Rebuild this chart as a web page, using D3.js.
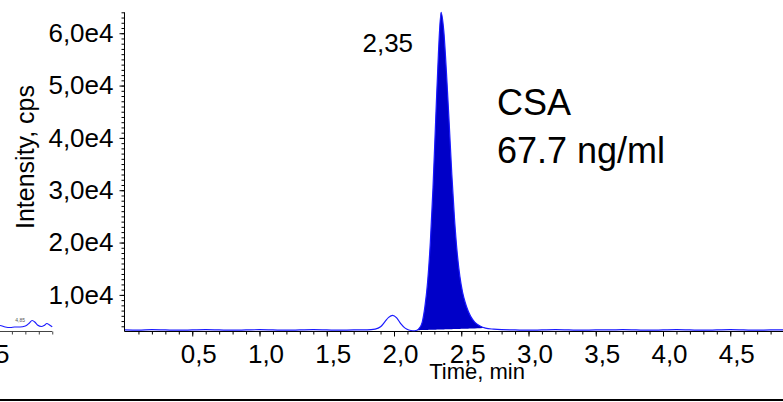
<!DOCTYPE html>
<html>
<head>
<meta charset="utf-8">
<script src="https://cdn.jsdelivr.net/npm/d3@7"></script>
<style>
  body { margin: 0; background: #fff; }
  svg { display: block; }
  text { font-family: "Liberation Sans", Arial, Helvetica, sans-serif; fill: #000; }
</style>
</head>
<body>
<svg id="chart" width="783" height="402"></svg>
<script>
// XIC trace: retention time (min) and intensity (cps)
const times = [
  0.00, 0.10, 0.20, 0.30, 0.40, 0.50, 0.60, 0.70, 0.80, 0.90,
  1.00, 1.10, 1.20, 1.30, 1.40, 1.50, 1.60, 1.70, 1.80, 1.86,
  1.90, 1.93, 1.96, 1.99, 2.02, 2.05, 2.08, 2.11, 2.14, 2.17,
  2.19, 2.21, 2.23, 2.25, 2.27, 2.29, 2.31, 2.33, 2.35, 2.37,
  2.39, 2.41, 2.43, 2.45, 2.47, 2.49, 2.51, 2.53, 2.55, 2.57,
  2.60, 2.64, 2.68, 2.74, 2.80, 2.90, 3.00, 3.10, 3.20, 3.30,
  3.40, 3.50, 3.60, 3.70, 3.80, 3.90, 4.00, 4.10, 4.20, 4.30,
  4.40, 4.50, 4.60, 4.70, 4.80, 4.90, 5.00
];
const intensities = [
  3300, 3250, 3350, 3300, 3250, 3300, 3350, 3300, 3250, 3300,
  3350, 3300, 3250, 3300, 3350, 3300, 3250, 3300, 3300, 3450,
  3900, 4800, 5700, 6100, 5600, 4500, 3700, 3300, 3150, 3250,
  3700, 4800, 7800, 12500, 20000, 30500, 43500, 56000, 64000, 60500,
  52500, 43000, 33000, 24500, 18000, 13500, 10500, 8500, 7000, 5900,
  4800, 4050, 3650, 3450, 3350, 3300, 3250, 3300, 3350, 3300,
  3250, 3300, 3300, 3350, 3300, 3250, 3300, 3350, 3300, 3250,
  3300, 3350, 3300, 3250, 3300, 3300, 3250
];

// integrated peak window (min)
const peakStart = 2.17;
const peakEnd = 2.68;
const peakRT = 2.35;
const peakLabel = "2,35";
const analyteLines = ["CSA", "67.7 ng/ml"];

// axis ticks and labels
const yMajorTicks = [10000, 20000, 30000, 40000, 50000, 60000];
const yTickLabels = ["1,0e4", "2,0e4", "3,0e4", "4,0e4", "5,0e4", "6,0e4"];
const xMajorTicks = [0.5, 1.0, 1.5, 2.0, 2.5, 3.0, 3.5, 4.0, 4.5];
const xTickLabels = ["0,5", "1,0", "1,5", "2,0", "2,5", "3,0", "3,5", "4,0", "4,5"];
const xTitle = "Time, min";
const yTitle = "Intensity, cps";

// right-hand end of the neighbouring panel
const sideTimes = [4.58, 4.61, 4.65, 4.69, 4.72, 4.76, 4.80, 4.83, 4.85, 4.87, 4.89, 4.92, 4.94, 4.96, 4.98, 5.00];
const sideIntensities = [50, 52, 38, 33, 38, 38, 47, 75, 99, 85, 56, 42, 52, 71, 56, 40];
const sideMajorTicks = [4.5];
const sideTickLabels = ["4,5"];
const sidePeakRT = 4.85;
const sidePeakLabel = "4,85";

const svg = d3.select("#chart");
const W = 783, H = 402;
svg.append("rect").attr("width", W).attr("height", H).attr("fill", "#fff");

const axisX0 = 124.5;   // y-axis position
const axisY0 = 331.5;   // x-axis position
const traceColor = "#1a1aff";
const fillColor = "#0000c8";
const fontSize = 26;

const x = d3.scaleLinear().domain([0, 5]).range([125, 797.5]);
const y = d3.scaleLinear().domain([3100, 64000]).range([331, 12.3]);

const data = times.map((t, i) => ({ t, v: intensities[i] }));

// ---- axes ----
const minorX = d3.range(1, 50).map(i => i / 10);
const gxMinor = svg.append("g").attr("transform", `translate(0,${axisY0})`)
  .call(d3.axisBottom(x).tickValues(minorX).tickSize(3).tickSizeOuter(0).tickFormat(""));
gxMinor.select(".domain").attr("d", `M${axisX0},0H${W}`);

const gxMajor = svg.append("g").attr("transform", `translate(0,${axisY0})`)
  .call(d3.axisBottom(x).tickValues(xMajorTicks).tickSize(5).tickPadding(8)
    .tickFormat((d, i) => xTickLabels[i]));
gxMajor.select(".domain").remove();
gxMajor.selectAll("text").attr("dx", 6).style("font-size", fontSize + "px");

const minorY = d3.range(4000, 64001, 1000);
const gyMinor = svg.append("g").attr("transform", `translate(${axisX0},0)`)
  .call(d3.axisLeft(y).tickValues(minorY).tickSize(3).tickSizeOuter(0).tickFormat(""));
gyMinor.select(".domain").attr("d", `M0,${axisY0}V${y(64000)}`);

const gyMajor = svg.append("g").attr("transform", `translate(${axisX0},0)`)
  .call(d3.axisLeft(y).tickValues(yMajorTicks).tickSize(5).tickPadding(6)
    .tickFormat((d, i) => yTickLabels[i]));
gyMajor.select(".domain").remove();
gyMajor.selectAll("text").style("font-size", fontSize + "px");

svg.selectAll(".domain, .tick line").attr("stroke", "#000").attr("stroke-width", 1);

// axis titles
svg.append("text")
  .attr("x", 477).attr("y", 379)
  .attr("text-anchor", "middle")
  .style("font-size", "22px")
  .text(xTitle);

svg.append("text")
  .attr("transform", "translate(34,157) rotate(-90)")
  .attr("text-anchor", "middle")
  .style("font-size", "25px")
  .text(yTitle);

// ---- integrated peak fill ----
const startV = intensities[times.indexOf(peakStart)];
const endV = intensities[times.indexOf(peakEnd)];
const baseAt = t => startV + (endV - startV) * (t - peakStart) / (peakEnd - peakStart);
const peakData = data.filter(d => d.t >= peakStart && d.t <= peakEnd);

svg.append("path")
  .datum(peakData)
  .attr("fill", fillColor)
  .attr("d", d3.area()
    .curve(d3.curveMonotoneX)
    .x(d => x(d.t))
    .y0(d => y(baseAt(d.t)))
    .y1(d => y(d.v)));

// ---- trace ----
svg.append("path")
  .datum(data)
  .attr("fill", "none")
  .attr("stroke", traceColor)
  .attr("stroke-width", 1.2)
  .attr("d", d3.line().curve(d3.curveMonotoneX).x(d => x(d.t)).y(d => y(d.v)));

// retention time label
svg.append("text")
  .attr("x", x(peakRT) - 28).attr("y", 52)
  .attr("text-anchor", "end")
  .style("font-size", fontSize + "px")
  .text(peakLabel);

// analyte annotation
svg.append("text")
  .attr("x", 497).attr("y", 115)
  .style("font-size", "36px")
  .text(analyteLines[0]);
svg.append("text")
  .attr("x", 497).attr("y", 163)
  .style("font-size", "36px")
  .text(analyteLines[1]);

// ---- neighbouring panel fragment ----
const xs = d3.scaleLinear().domain([4.5, 5.0]).range([-15, 52.25]);
const ys = d3.scaleLinear().domain([0, 3000]).range([331, 12]);

const sideMinor = d3.range(45, 51).map(i => i / 10);
const gs = svg.append("g").attr("transform", `translate(0,${axisY0})`)
  .call(d3.axisBottom(xs).tickValues(sideMinor).tickSize(3).tickSizeOuter(0).tickFormat(""));
gs.select(".domain").attr("d", `M0,0H${xs(5.0)}`);
gs.selectAll(".domain, .tick line").attr("stroke", "#444");

const gsMajor = svg.append("g").attr("transform", `translate(0,${axisY0})`)
  .call(d3.axisBottom(xs).tickValues(sideMajorTicks).tickSize(5).tickPadding(8)
    .tickFormat((d, i) => sideTickLabels[i]));
gsMajor.select(".domain").remove();
gsMajor.selectAll(".tick line").attr("stroke", "#444");
gsMajor.selectAll("text").attr("dx", 6).style("font-size", fontSize + "px");

svg.append("path")
  .datum(sideTimes.map((t, i) => ({ t, v: sideIntensities[i] })))
  .attr("fill", "none")
  .attr("stroke", traceColor)
  .attr("stroke-width", 1.1)
  .attr("d", d3.line().curve(d3.curveMonotoneX).x(d => xs(d.t)).y(d => ys(d.v)));

svg.append("text")
  .attr("x", xs(sidePeakRT) - 7).attr("y", 322)
  .attr("text-anchor", "end")
  .style("font-size", "5px")
  .style("fill", "#555")
  .text(sidePeakLabel);

// bottom rule
svg.append("rect")
  .attr("x", 0).attr("y", 399).attr("width", W).attr("height", 2)
  .attr("fill", "#000");
</script>
</body>
</html>
